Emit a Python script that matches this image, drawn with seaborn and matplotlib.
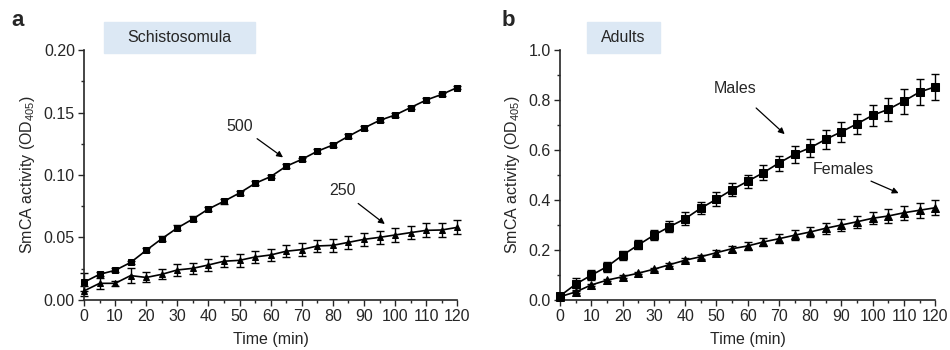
import numpy as np
import matplotlib.pyplot as plt
import seaborn as sns

# Dados
tempo = list(range(0, 125, 5))

schisto_500 = [0.0142, 0.0205, 0.0237, 0.0300, 0.0397, 0.0490, 0.0576, 0.0648, 0.0728, 0.0790,
               0.0856, 0.0933, 0.0987, 0.1070, 0.1125, 0.1190, 0.1240, 0.1310, 0.1376, 0.1437,
               0.1480, 0.1540, 0.1600, 0.1645, 0.1700]
schisto_500_err = [0.0070, 0.0015, 0.0015, 0.0015, 0.0015, 0.0020, 0.0020, 0.0020, 0.0015, 0.0020,
                   0.0015, 0.0015, 0.0015, 0.0015, 0.0015, 0.0015, 0.0015, 0.0015, 0.0015, 0.0015,
                   0.0015, 0.0015, 0.0015, 0.0015, 0.0015]
schisto_250 = [0.0072, 0.0133, 0.0133, 0.0195, 0.0180, 0.0205, 0.0240, 0.0253, 0.0280, 0.0310,
               0.0317, 0.0344, 0.0360, 0.0390, 0.0403, 0.0432, 0.0437, 0.0461, 0.0485, 0.0501,
               0.0520, 0.0539, 0.0557, 0.0560, 0.0581]
schisto_250_err = [0.0040, 0.0045, 0.0020, 0.0060, 0.0040, 0.0040, 0.0045, 0.0045, 0.0045, 0.0045,
                   0.0050, 0.0050, 0.0045, 0.0050, 0.0050, 0.0050, 0.0050, 0.0050, 0.0050, 0.0050,
                   0.0055, 0.0055, 0.0055, 0.0055, 0.0055]

machos = [0.016, 0.063, 0.099, 0.133, 0.179, 0.220, 0.259, 0.293, 0.325, 0.367,
          0.403, 0.441, 0.475, 0.509, 0.548, 0.583, 0.609, 0.643, 0.673, 0.705,
          0.739, 0.763, 0.796, 0.832, 0.853]
machos_err = [0.010, 0.023, 0.020, 0.020, 0.018, 0.018, 0.020, 0.022, 0.025, 0.025,
              0.027, 0.027, 0.027, 0.030, 0.030, 0.033, 0.035, 0.037, 0.040, 0.040,
              0.043, 0.045, 0.050, 0.052, 0.053]
femeas = [0.013, 0.032, 0.060, 0.079, 0.093, 0.107, 0.123, 0.141, 0.159, 0.173,
          0.189, 0.205, 0.216, 0.232, 0.245, 0.259, 0.272, 0.287, 0.300, 0.313,
          0.327, 0.336, 0.349, 0.359, 0.369]
femeas_err = [0.005, 0.005, 0.005, 0.005, 0.005, 0.005, 0.006, 0.006, 0.007, 0.008,
              0.010, 0.012, 0.015, 0.017, 0.018, 0.020, 0.021, 0.022, 0.023, 0.024,
              0.025, 0.027, 0.028, 0.030, 0.031]

sns.set_style('ticks')
plt.rcParams['font.family'] = ['Liberation Sans', 'DejaVu Sans']
plt.rcParams['mathtext.default'] = 'regular'

FS = 11.5

fig = plt.figure(figsize=(9.5, 3.5), dpi=100)
ax_a = fig.add_axes([0.0884, 0.143, 0.393, 0.714])
ax_b = fig.add_axes([0.5895, 0.143, 0.395, 0.714])


def desenhar_serie(ax, y, err, marcador, tam):
    ax.errorbar(tempo, y, yerr=err, fmt='none', ecolor='black', elinewidth=1.0,
                capsize=3, capthick=1.0, clip_on=False, zorder=2)
    sns.lineplot(x=tempo, y=y, ax=ax, color='black', linewidth=1.2, marker=marcador,
                 markersize=tam, markeredgecolor='black', markerfacecolor='black',
                 clip_on=False, zorder=3)


def formatar_eixo(ax, ymax, ymaj, ymin):
    ax.set_xlim(0, 120)
    ax.set_ylim(0, ymax)
    ax.set_xticks(range(0, 121, 10))
    ax.set_xticks(range(0, 121, 5), minor=True)
    ax.set_yticks(np.arange(0, ymax + 1e-9, ymaj))
    ax.set_yticks(np.arange(0, ymax + 1e-9, ymin), minor=True)
    sns.despine(ax=ax)
    for s in ['left', 'bottom']:
        ax.spines[s].set_linewidth(1.2)
    ax.tick_params(which='major', length=4, width=1.0, labelsize=FS, direction='out', pad=2.5)
    ax.tick_params(which='minor', length=2.5, width=1.0, direction='out')
    ax.set_xlabel('Time (min)', fontsize=FS, labelpad=6)
    ax.set_ylabel('SmCA activity (OD$_{405}$)', fontsize=FS, labelpad=5)


# Painel a
desenhar_serie(ax_a, schisto_500, schisto_500_err, 's', 5)
desenhar_serie(ax_a, schisto_250, schisto_250_err, '^', 5)
formatar_eixo(ax_a, 0.20, 0.05, 0.025)
ax_a.set_yticklabels([f'{v:.2f}' for v in np.arange(0, 0.2001, 0.05)])
ax_a.annotate('500', xy=(64.7, 0.1128), xytext=(54.4, 0.139), fontsize=FS,
              ha='right', va='center',
              arrowprops=dict(arrowstyle='-|>', color='black', lw=0.9, mutation_scale=9))
ax_a.annotate('250', xy=(97.4, 0.0594), xytext=(87.2, 0.0872), fontsize=FS,
              ha='right', va='center',
              arrowprops=dict(arrowstyle='-|>', color='black', lw=0.9, mutation_scale=9))

# Painel b
desenhar_serie(ax_b, machos, machos_err, 's', 6)
desenhar_serie(ax_b, femeas, femeas_err, '^', 5.5)
formatar_eixo(ax_b, 1.0, 0.2, 0.1)
ax_b.set_yticklabels([f'{v:.1f}' for v in np.arange(0, 1.001, 0.2)])
ax_b.annotate('Males', xy=(72.5, 0.656), xytext=(56, 0.845), fontsize=FS,
              ha='center', va='center',
              arrowprops=dict(arrowstyle='-|>', color='black', lw=0.9, mutation_scale=9,
                              shrinkA=9))
ax_b.annotate('Females', xy=(109.1, 0.423), xytext=(90.7, 0.523), fontsize=FS,
              ha='center', va='center',
              arrowprops=dict(arrowstyle='-|>', color='black', lw=0.9, mutation_scale=9,
                              shrinkA=2))

# Caixas de título e letras dos painéis
fig.patches.append(plt.Rectangle((104 / 950, 1 - 53 / 350), 151 / 950, 31 / 350,
                                 transform=fig.transFigure, color='#dce8f4', zorder=0))
fig.text(179.5 / 950, 1 - 37.5 / 350, 'Schistosomula', ha='center', va='center', fontsize=FS)
fig.patches.append(plt.Rectangle((587 / 950, 1 - 53 / 350), 73 / 950, 31 / 350,
                                 transform=fig.transFigure, color='#dce8f4', zorder=0))
fig.text(623.5 / 950, 1 - 37.5 / 350, 'Adults', ha='center', va='center', fontsize=FS)
fig.text(11 / 950, 1 - 20 / 350, 'a', fontsize=16, fontweight='bold', va='center')
fig.text(502 / 950, 1 - 20 / 350, 'b', fontsize=16, fontweight='bold', va='center')

plt.savefig('out.png', dpi=100)
